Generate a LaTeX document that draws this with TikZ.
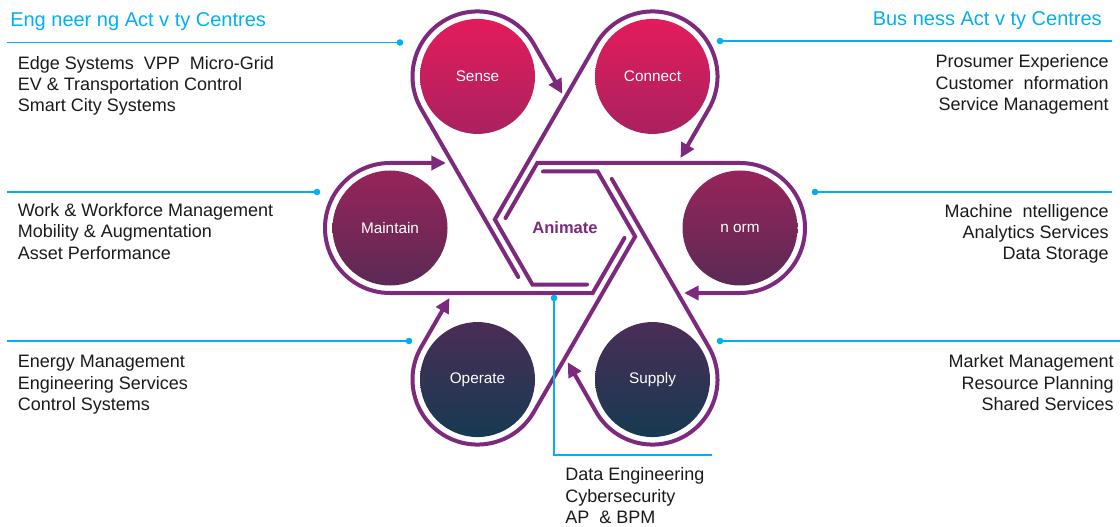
\documentclass[tikz,border=0pt]{standalone}
\usepackage{fontspec}
\setmainfont{Liberation Sans}
\usetikzlibrary{arrows.meta}
\definecolor{acPurple}{HTML}{7D2A7E}
\definecolor{acCyan}  {HTML}{00B0F0}
\definecolor{acInk}   {HTML}{1A1A1A}
\definecolor{acRoseT} {HTML}{E31C5B}
\definecolor{acRoseB} {HTML}{AA215F}
\definecolor{acPlumT} {HTML}{97245A}
\definecolor{acPlumB} {HTML}{5B2A55}
\definecolor{acNavyT} {HTML}{4B2D56}
\definecolor{acNavyB} {HTML}{163A51}
\newcommand{\fs}[2]{\fontsize{#1pt}{#2pt}\selectfont}

\begin{document}
\begin{tikzpicture}[x=0.75pt,y=-0.75pt,
    hub/.style={circle,minimum size=86.25pt,inner sep=0pt,text=white,font=\fs{11.5}{14}},
    rose/.style={hub,top color=acRoseT,bottom color=acRoseB},
    plum/.style={hub,top color=acPlumT,bottom color=acPlumB},
    navy/.style={hub,top color=acNavyT,bottom color=acNavyB},
    band/.style={draw=acPurple,line width=3pt,line cap=round,
                 -{Triangle[length=11pt,width=10.5pt]}},
    hdr/.style={inner sep=0pt,text=acCyan,font=\fs{15}{18}},
    lst/.style={inner sep=0pt,text=acInk,font=\fs{13.5}{16}},
    lead/.style={draw=acCyan,line width=1.1pt}]
  \useasboundingbox (0,0) rectangle (1120,527);

  \node[rose] (sense)   at (477.5,76.45)  {Sense};
  \node[rose] (connect) at (652.5,76.45)  {Connect};
  \node[plum] (maint)   at (390,228)      {Maintain};
  \node[plum] (inform)  at (740,228)      {n orm};
  \node[navy] (operate) at (477.5,379.55) {Operate};
  \node[navy] (supply)  at (652.5,379.55) {Supply};
  \node[font=\bfseries\fs{12.4}{15},text=acPurple] (anim) at (565,228) {Animate};

  % corners of the woven hexagon
  \coordinate (xl)  at (494.85,219.5);
  \coordinate (xr)  at (635.15,236.5);
  \coordinate (ct)  at (537.29,163);
  \coordinate (cb)  at (592.71,293);
  \coordinate (bli) at (532.38,284.5);
  \coordinate (tri) at (597.62,171.5);

  \draw[band] (505.53,218) -- (ct) -- (740,163)
    arc[start angle=-90,end angle=90,radius=65] -- (684,293);
  \draw[band] (624.47,238) -- (cb) -- (390,293)
    arc[start angle=90,end angle=270,radius=65] -- (446,163);
  \draw[band] (587,284.5) -- (bli) -- (xl) -- (596.21,43.95)
    arc[start angle=210,end angle=390,radius=65] -- (680.47,158);
  \draw[band] (543,171.5) -- (tri) -- (xr) -- (533.79,412.05)
    arc[start angle=30,end angle=210,radius=65] -- (449.53,298);
  \draw[band] (518.23,277) -- (421.21,108.95)
    arc[start angle=150,end angle=330,radius=65] -- (562.29,93.81);
  \draw[band] (611.77,179) -- (708.79,347.05)
    arc[start angle=330,end angle=510,radius=65] -- (567.71,362.19);

  \node[hdr,anchor=base west] (engHd) at (10,26.5) {Eng neer ng Act v ty Centres};
  \node[hdr,anchor=base east] (busHd) at (1102,26) {Bus ness Act v ty Centres};

  % lists are anchored on their last line
  \node[lst,anchor=base west,align=left] (eng1) at (17.5,111.7)
    {Edge Systems\ \ VPP\ \ Micro-Grid\\EV \& Transportation Control\\Smart City Systems};
  \node[lst,anchor=base west,align=left] (eng2) at (17.5,259.3)
    {Work \& Workforce Management\\Mobility \& Augmentation\\Asset Performance};
  \node[lst,anchor=base west,align=left] (eng3) at (17.5,410.5)
    {Energy Management\\Engineering Services\\Control Systems};
  \node[lst,anchor=base east,align=right] (bus1) at (1109,110.5)
    {Prosumer Experience\\Customer\ \ nformation\\Service Management};
  \node[lst,anchor=base east,align=right] (bus2) at (1109,260)
    {Machine\ \ ntelligence\\Analytics Services\\Data Storage};
  \node[lst,anchor=base east,align=right] (bus3) at (1114,410.5)
    {Market Management\\Resource Planning\\Shared Services};
  \node[lst,anchor=base west,align=left] (core) at (565,523.5)
    {Data Engineering\\Cybersecurity\\AP\ \ \& BPM};

  % leader lines
  \coordinate (a1) at (7,42.5);    \coordinate (d1) at (400,42.5);
  \coordinate (a2) at (1112,41);   \coordinate (d2) at (720,41);
  \coordinate (a3) at (7,192);     \coordinate (d3) at (317,192);
  \coordinate (a4) at (1112,192);  \coordinate (d4) at (815,192);
  \coordinate (a5) at (7,341);     \coordinate (d5) at (409,341);
  \coordinate (a6) at (1120,341);  \coordinate (d6) at (720,341);
  \coordinate (a7) at (712,455);   \coordinate (d7) at (554,298);
  \foreach \i in {1,...,6}
    \draw[lead] (a\i) -- (d\i);
  \draw[lead] (d7) |- (a7);
  \foreach \i in {1,...,7}
    \fill[acCyan] (d\i) circle[radius=3.3];
\end{tikzpicture}
\end{document}
